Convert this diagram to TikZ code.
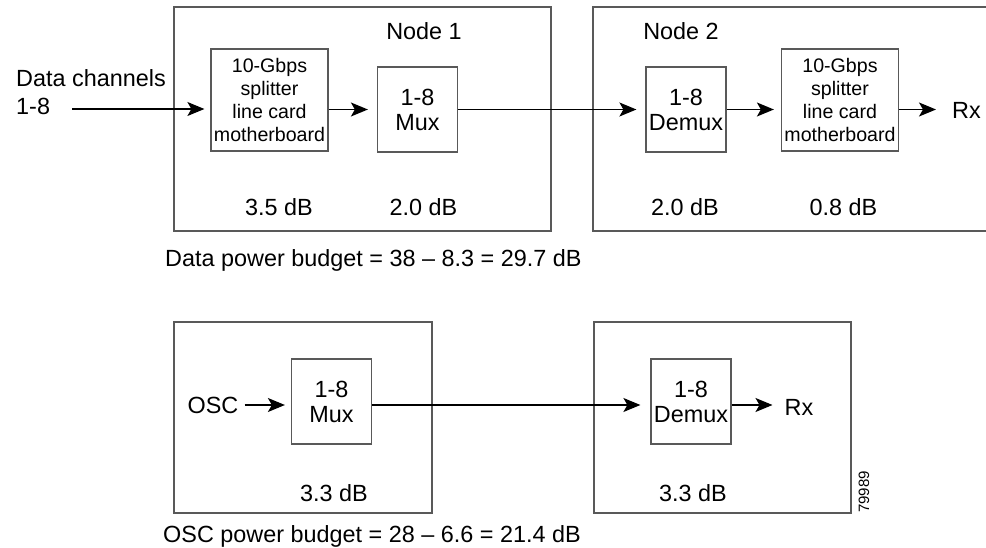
\documentclass[tikz,border=0pt]{standalone}
\usepackage{fontspec}
\setmainfont{Liberation Sans}
\usetikzlibrary{arrows.meta}
\definecolor{boxgray}{gray}{0.35}

\begin{document}
\begin{tikzpicture}[x=1pt, y=-1pt,
  frame/.style={boxgray, line width=1.2pt},
  unit/.style={draw=boxgray, line width=1.2pt, align=center, inner sep=0pt},
  muxbox/.style={unit, minimum width=80pt, minimum height=85pt, font=\fontsize{23.4}{25}\selectfont},
  cardbox/.style={unit, minimum width=117pt, minimum height=102pt, font=\fontsize{19.6}{23.3}\selectfont},
  lbl/.style={font=\fontsize{23.4}{28}\selectfont, inner sep=0pt},
  sig/.style={black, line width=1.3pt, shorten >=7pt, -{Stealth[length=17pt, width=14pt, inset=4pt]}}]

\useasboundingbox (0,0) rectangle (986,548);

% data channels
\draw[frame] (174,7) rectangle (551,231);
\draw[frame] (986,7) -- (593,7) -- (593,231) -- (986,231);

\node[lbl, anchor=base west] (dc) at (16,87) {Data channels};
\node[lbl, anchor=base west] (ch) at (16,115) {1-8};
\coordinate (in1) at (72,109);

\node[lbl, anchor=base] (node1) at (424,40) {Node 1};
\node[lbl, anchor=base] (node2) at (681,40) {Node 2};

\node[cardbox] (split1) at (269.5,100) {10-Gbps\\splitter\\line card\\motherboard};
\node[muxbox] (mux1) at (417.5,109.5) {1-8\\Mux};
\node[muxbox] (demux1) at (686,109.5) {1-8\\Demux};
\node[cardbox] (split2) at (840,100) {10-Gbps\\splitter\\line card\\motherboard};
\node[lbl, anchor=base] (rx1) at (966.5,119) {Rx};

\draw[sig, shorten >=6pt] (in1) -- (split1.west |- in1);
\draw[sig, shorten >=9pt] (split1.east |- mux1) -- (mux1.west);
\draw[sig, shorten >=9pt] (mux1.east) -- (demux1.west);
\draw[sig] (demux1.east) -- (split2.west |- demux1);
\draw[sig, shorten >=16pt] (split2.east |- demux1) -- (rx1.west |- demux1);

\node[lbl, anchor=base] (db1) at (279,216) {3.5 dB};
\node[lbl, anchor=base] (db2) at (423.5,216) {2.0 dB};
\node[lbl, anchor=base] (db3) at (685,216) {2.0 dB};
\node[lbl, anchor=base] (db4) at (843.5,216) {0.8 dB};

\node[lbl, anchor=base west] (databudget) at (165,267) {Data power budget = 38 – 8.3 = 29.7 dB};

% OSC
\draw[frame] (174,322) rectangle (432,513);
\draw[frame] (594,322) rectangle (851,513);

\node[lbl, anchor=base] (osc) at (213,413) {OSC};
\node[muxbox] (mux2) at (331.5,401.5) {1-8\\Mux};
\node[muxbox] (demux2) at (691,401.5) {1-8\\Demux};
\node[lbl, anchor=base] (rx2) at (799,415) {Rx};
\coordinate (oscline) at (0,405);

\draw[sig, shorten <=6pt, shorten >=6pt] (osc.east |- oscline) -- (mux2.west |- oscline);
\draw[sig, shorten >=10pt] (mux2.east |- oscline) -- (demux2.west |- oscline);
\draw[sig, shorten >=12pt] (demux2.east |- oscline) -- (rx2.west |- oscline);

\node[lbl, anchor=base] (db5) at (334,501) {3.3 dB};
\node[lbl, anchor=base] (db6) at (693,501) {3.3 dB};

\node[lbl, anchor=base west] (oscbudget) at (163,542) {OSC power budget = 28 – 6.6 = 21.4 dB};
\node[font=\fontsize{15}{15}\selectfont, rotate=90, inner sep=0pt] (fignum) at (864,492) {79989};
\end{tikzpicture}
\end{document}
